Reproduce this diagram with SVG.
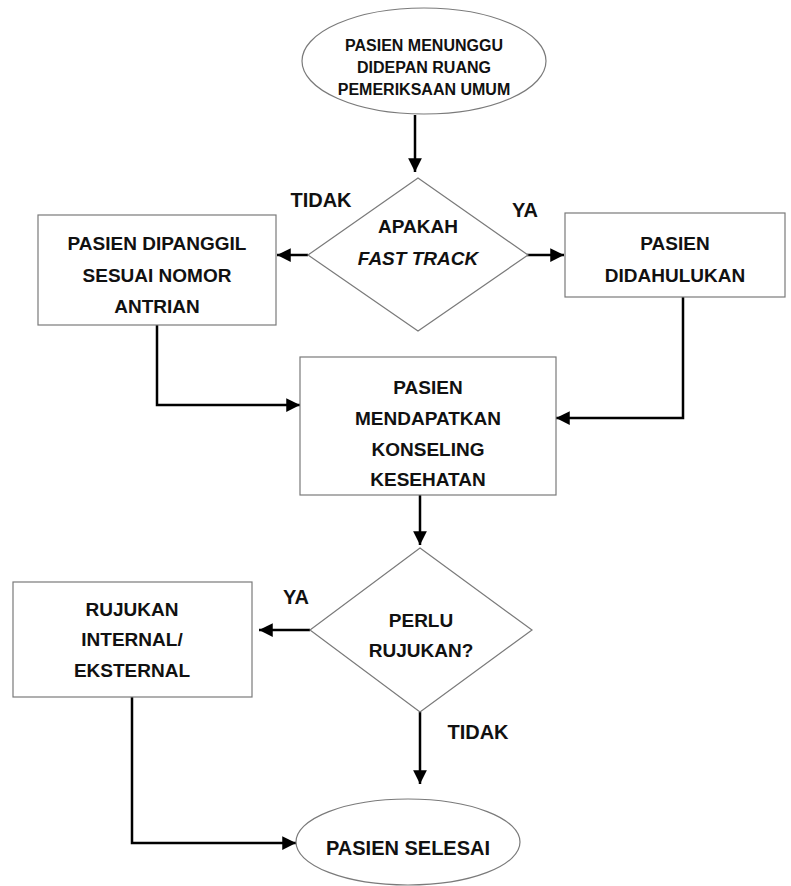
<svg xmlns="http://www.w3.org/2000/svg" width="791" height="886" viewBox="0 0 791 886">
<style>
.shape{fill:#fff;stroke:#7a7a7a;stroke-width:1.2}
.t{font-family:"Liberation Sans",Arial,sans-serif;font-weight:bold;fill:#111;text-anchor:middle}
.s16{font-size:16px}
.s19{font-size:19px}
.s20{font-size:20px}
.c{fill:none;stroke:#000;stroke-width:2.5}
</style>
<defs>
<marker id="ah" viewBox="0 0 10 10" refX="10" refY="5" markerWidth="5.5" markerHeight="5.5" orient="auto" markerUnits="strokeWidth">
<path d="M0,0 L10,5 L0,10 z" fill="#000"/>
</marker>
</defs>
<rect width="791" height="886" fill="#fff"/>
<g id="connectors">
<path class="c" d="M415,115 V172" marker-end="url(#ah)"/>
<path class="c" d="M308,255 H277" marker-end="url(#ah)"/>
<path class="c" d="M527,255 H564" marker-end="url(#ah)"/>
<path class="c" d="M157,325 V405 H300" marker-end="url(#ah)"/>
<path class="c" d="M683,297 V418 H556" marker-end="url(#ah)"/>
<path class="c" d="M420,495 V545" marker-end="url(#ah)"/>
<path class="c" d="M310,630 H259" marker-end="url(#ah)"/>
<path class="c" d="M420,712 V784" marker-end="url(#ah)"/>
<path class="c" d="M132,697 V843 H296" marker-end="url(#ah)"/>
</g>
<g id="start">
<ellipse class="shape" cx="424" cy="61" rx="122" ry="53"/>
<text class="t s16" x="424" y="51">PASIEN MENUNGGU</text>
<text class="t s16" x="424" y="73">DIDEPAN RUANG</text>
<text class="t s16" x="424" y="95">PEMERIKSAAN UMUM</text>
</g>
<g id="decision1">
<polygon class="shape" points="418,178 528,255 418,331 308,255"/>
<text class="t s19" x="418" y="233">APAKAH</text>
<text class="t s19" x="418" y="265" font-style="italic">FAST TRACK</text>
</g>
<g id="label-tidak1"><text class="t s20" x="321" y="207">TIDAK</text></g>
<g id="label-ya1"><text class="t s20" x="525" y="217">YA</text></g>
<g id="queue">
<rect class="shape" x="38" y="215" width="238" height="110"/>
<text class="t s19" x="157" y="250">PASIEN DIPANGGIL</text>
<text class="t s19" x="157" y="282">SESUAI NOMOR</text>
<text class="t s19" x="157" y="313">ANTRIAN</text>
</g>
<g id="priority">
<rect class="shape" x="565" y="213" width="220" height="84"/>
<text class="t s19" x="675" y="250">PASIEN</text>
<text class="t s19" x="675" y="282">DIDAHULUKAN</text>
</g>
<g id="counseling">
<rect class="shape" x="300" y="357" width="256" height="138"/>
<text class="t s19" x="428" y="394">PASIEN</text>
<text class="t s19" x="428" y="425">MENDAPATKAN</text>
<text class="t s19" x="428" y="456">KONSELING</text>
<text class="t s19" x="428" y="486">KESEHATAN</text>
</g>
<g id="decision2">
<polygon class="shape" points="420,548 532,630 420,712 310,630"/>
<text class="t s19" x="421" y="627">PERLU</text>
<text class="t s19" x="421" y="657">RUJUKAN?</text>
</g>
<g id="label-ya2"><text class="t s20" x="296" y="604">YA</text></g>
<g id="label-tidak2"><text class="t s20" x="478" y="739">TIDAK</text></g>
<g id="referral">
<rect class="shape" x="13" y="582" width="239" height="115"/>
<text class="t s19" x="132" y="616">RUJUKAN</text>
<text class="t s19" x="132" y="646">INTERNAL/</text>
<text class="t s19" x="132" y="677">EKSTERNAL</text>
</g>
<g id="end">
<ellipse class="shape" cx="408" cy="842" rx="112" ry="43"/>
<text class="t s20" x="408" y="855">PASIEN SELESAI</text>
</g>
</svg>
